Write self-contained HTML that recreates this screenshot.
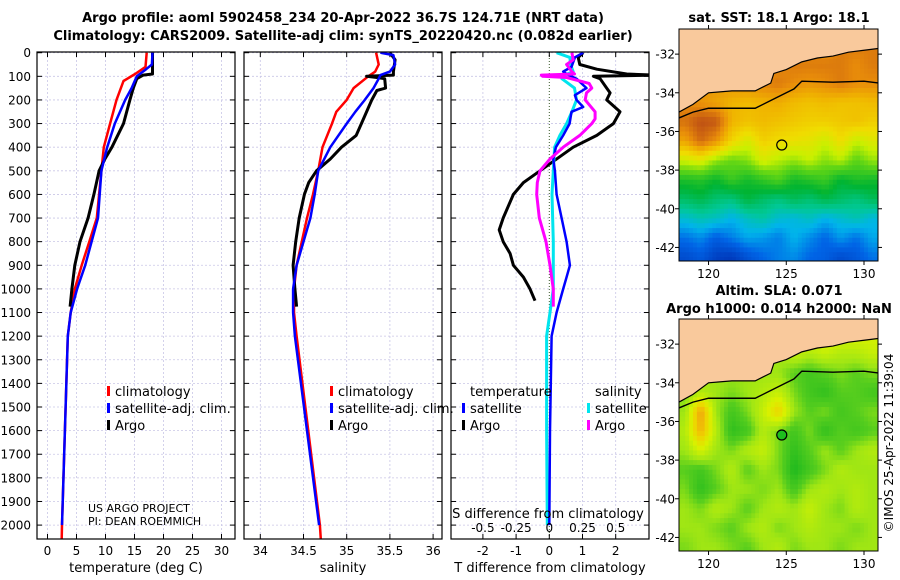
<!DOCTYPE html>
<html><head><meta charset="utf-8"><style>
html,body{margin:0;padding:0;background:#fff;}
svg{display:block;font-family:"DejaVu Sans","Liberation Sans",sans-serif;}
</style></head><body>
<svg id="c" width="900" height="580" viewBox="0 0 900 580" xmlns="http://www.w3.org/2000/svg">
<g id="titles" font-weight="bold" font-size="13" text-anchor="middle" fill="#000">
<text x="343" y="22">Argo profile: aoml 5902458_234 20-Apr-2022 36.7S 124.71E (NRT data)</text>
<text x="343" y="40">Climatology: CARS2009. Satellite-adj clim: synTS_20220420.nc (0.082d earlier)</text>
<text x="779" y="22">sat. SST: 18.1 Argo: 18.1</text>
<text x="779" y="295">Altim. SLA: 0.071</text>
<text x="779" y="313">Argo h1000: 0.014 h2000: NaN</text>
</g>
<text x="0" y="0" transform="translate(893,443) rotate(-90)" font-size="12" text-anchor="middle">©IMOS 25-Apr-2022 11:39:04</text>
</svg>
<script>
// ---------- data ----------
const depthTicks=[0,100,200,300,400,500,600,700,800,900,1000,1100,1200,1300,1400,1500,1600,1700,1800,1900,2000];
const tempTicks=[0,5,10,15,20,25,30];
const salTicks=[34,34.5,35,35.5,36];
const salTickLabels=["34","34.5","35","35.5","36"];
const tdiffTicks=[-2,-1,0,1,2];
const sdiffTicks=[-0.5,-0.25,0,0.25,0.5];
const sdiffTickLabels=["-0.5","-0.25","0","0.25","0.5"];

const tClimDepth=[0,60,90,120,200,300,400,500,600,700,800,900,1000,1100,1200,2000,2060];
const tClimVal=[17.1,16.9,15.1,13.1,11.9,10.8,9.7,9.3,8.9,8.5,7.2,5.9,4.7,4.0,3.5,2.5,2.45];
const tSatDepth=[0,50,70,100,150,200,300,400,500,600,700,800,900,1000,1100,1200,2000];
const tSatVal=[18.1,18.0,17.0,15.4,14.5,13.4,11.6,10.3,9.3,9.0,8.7,7.6,6.5,5.1,4.0,3.5,2.5];
const tArgoDepth=[0,90,95,110,150,200,300,400,450,500,600,700,800,900,1000,1075];
const tArgoVal=[18.1,18.1,16.5,15.4,14.8,14.2,13.1,11.1,9.9,8.9,8.0,7.0,5.6,4.7,4.2,3.9];

const sClimDepth=[0,50,80,100,150,200,250,300,400,500,600,700,800,900,1000,1100,1200,2000,2060];
const sClimVal=[35.34,35.37,35.33,35.25,35.08,35.0,34.88,34.83,34.72,34.67,34.61,34.54,34.48,34.42,34.39,34.39,34.42,34.69,34.70];
const sSatDepth=[0,10,50,80,95,110,150,200,250,300,400,500,600,700,800,900,1000,1100,1200,2000];
const sSatVal=[35.39,35.54,35.56,35.50,35.39,35.37,35.31,35.21,35.10,35.0,34.81,34.67,34.63,34.58,34.50,34.42,34.38,34.38,34.40,34.68];
const sArgoDepth=[0,30,80,95,100,105,110,150,160,200,300,350,400,450,500,550,600,700,800,900,1000,1075];
const sArgoVal=[35.50,35.56,35.54,35.54,35.23,35.35,35.44,35.45,35.35,35.29,35.17,35.11,34.94,34.81,34.65,34.56,34.51,34.45,34.41,34.38,34.40,34.42];

const dTArgoDepth=[0,20,50,70,90,95,100,110,150,170,200,250,300,350,400,500,550,600,700,750,800,850,900,950,1000,1050];
const dTArgoVal=[1.02,0.87,0.92,1.43,2.33,3.2,1.33,1.53,1.73,1.83,1.73,2.13,1.93,1.43,0.72,-0.28,-0.78,-1.08,-1.39,-1.51,-1.39,-1.18,-1.08,-0.78,-0.58,-0.43];
const dTSatDepth=[0,20,60,80,90,110,150,180,200,230,250,300,350,400,450,500,600,700,800,900,950,1000,1100,1200,1600,2000];
const dTSatVal=[1.02,0.77,0.67,0.42,0.52,0.82,1.12,0.77,0.82,1.02,0.67,0.61,0.42,0.20,0.12,0.17,0.22,0.37,0.52,0.62,0.52,0.42,0.22,0.07,0.02,0.0];
const dSArgoDepth=[0,30,50,80,90,95,100,105,130,150,170,200,250,280,300,350,400,450,500,550,600,700,800,900,1000,1075];
const dSArgoVal=[0.17,0.18,0.13,0.17,0.19,-0.06,-0.05,0.13,0.30,0.32,0.28,0.27,0.345,0.345,0.32,0.23,0.105,0.005,-0.07,-0.09,-0.095,-0.075,-0.025,0.005,0.03,0.03];
const dSSatDepth=[0,20,50,80,100,110,150,200,250,300,350,400,500,600,800,900,1000,1100,1200,1600,2000];
const dSSatVal=[0.055,0.155,0.16,0.18,0.09,0.095,0.19,0.205,0.17,0.13,0.08,0.04,0.03,0.02,0.03,0.03,0.03,0.005,-0.02,-0.02,-0.015];

const mapLonTicks=[120,125,130];
const mapLatTicks=[-32,-34,-36,-38,-40,-42];
const gridLons=[118,119,120,121,122,123,124,125,126,127,128,129,130];
const gridLats=[-31,-32,-33,-34,-35,-36,-37,-38,-39,-40,-41,-42];
const sstGrid=[
[19,19,19,19,19,19,19,19,19,19,19.5,19.5,19.5],
[19,19,19,19,19,19,19.3,19.5,19.5,19.5,19.5,19.3,19.5],
[19.2,19.2,19.2,19.2,19.3,19.4,19.5,19.3,19.2,19.3,19.5,19.3,19.3],
[19.3,19.2,19,18.8,18.7,18.8,18.9,18.7,18.6,18.7,18.6,18.6,18.7],
[19.6,20,19.9,18.8,18.6,18.7,18.6,18.5,18.4,18.4,18.5,18.6,18.4],
[19,19.7,19.2,18.3,17.8,18.4,18.2,18.1,18.0,17.7,18.2,17.6,17.9],
[17.7,17.9,17.3,17.0,17.2,17.8,17.5,17.3,17.6,17.2,17.5,16.9,17.3],
[16.3,16.4,16.1,16.6,16.2,16.5,16.8,16.2,16.4,16.6,16.0,16.3,16.2],
[15.6,15.8,15.5,15.4,15.9,15.6,15.4,15.7,15.5,15.8,15.6,15.4,15.7],
[14.8,15.0,14.9,14.6,14.9,15.1,14.8,14.7,14.9,14.6,14.8,15.0,14.7],
[14.1,14.3,13.9,14.2,14.5,14.4,14.2,14.6,14.3,14.0,14.4,14.1,14.5],
[13.6,13.8,13.4,13.3,13.7,14.0,14.2,14.3,14.0,13.9,13.6,13.8,14.1]];
const slaGrid=[
[.05,.05,.05,.05,.05,.05,.06,.07,.08,.09,.08,.08,.08],
[.05,.05,.05,.05,.05,.05,.05,.07,.06,.07,.06,.06,.07],
[.05,.05,.05,.05,.05,.05,.05,.03,.02,.03,.04,.03,.04],
[.04,.06,.05,.04,.05,.06,.07,.04,.02,.01,.03,.03,.02],
[.05,.14,.05,.02,.04,.07,.11,.05,.03,.04,.02,.03,.04],
[.06,.13,.06,.01,.02,.06,.04,.02,.04,.01,.03,.02,.03],
[.05,.08,.05,.04,.06,.07,.04,.01,.03,.05,.03,.05,.06],
[.03,.02,.04,.06,.03,.05,.04,0,.02,.04,.06,.05,.05],
[.04,.01,.03,.05,.05,.04,.05,.02,.05,.06,.05,.06,.05],
[.05,.04,.06,.05,.03,.05,.06,.05,.07,.05,.04,.06,.05],
[.05,.05,.04,.03,.05,.06,.04,.05,.06,.05,.05,.04,.05],
[.04,.05,.05,.04,.03,.05,.06,.04,.05,.05,.04,.05,.05]];
const coastLon=[118.1,119,120,121.5,123,124,124.2,125,126,127,128,129,130,131];
const coastLat=[-35.0,-34.6,-34.0,-33.9,-33.9,-33.5,-33.0,-32.8,-32.4,-32.2,-32.1,-31.9,-31.8,-31.7];
const isoLon=[118.1,119,120,122,123,124,125,125.5,126,128,130,131];
const isoLat=[-35.3,-35.0,-34.8,-34.8,-34.8,-34.4,-34.0,-33.8,-33.4,-33.45,-33.4,-33.5];
const argoLon=124.71, argoLat=-36.7;

// ---------- helpers ----------
const S=document.getElementById('c'), NS='http://www.w3.org/2000/svg';
function mk(tag,attrs,parent){const e=document.createElementNS(NS,tag);for(const k in attrs)e.setAttribute(k,attrs[k]);(parent||S).appendChild(e);return e;}
const Y0=52.7, YS=0.2362;
const yD=d=>Y0+d*YS;
const TOP=52, BOT=539;
const panels=[{x0:37,x1:235},{x0:244,x1:442},{x0:451,x1:649}];
const xT=v=>47.5+v*5.8;
const xS=v=>260.3+(v-34)*86.4;
const xDT=v=>549.3+v*33.2;
const xDS=v=>549.3+v*4*33.2;

panels.forEach((p,i)=>{
  const g=mk('g',{});
  
  
  const cp=mk('clipPath',{id:'cp'+i},S); mk('rect',{x:p.x0,y:TOP,width:p.x1-p.x0,height:BOT-TOP},cp);
  depthTicks.forEach(d=>{
    const l=mk('line',{x1:p.x0,x2:p.x1,y1:yD(d),y2:yD(d),stroke:'#c9c6e6','stroke-width':0.8,'stroke-dasharray':'2,2'},g);
    
    
    mk('line',{x1:p.x0,x2:p.x0+5,y1:yD(d),y2:yD(d),stroke:'#000'},g);
    mk('line',{x1:p.x1-5,x2:p.x1,y1:yD(d),y2:yD(d),stroke:'#000'},g);
  });
  p.g=g;
});
depthTicks.forEach(d=>{
  const t=mk('text',{x:31,y:yD(d)+4.5,'font-size':12,'text-anchor':'end'});
  t.textContent=d;
  
  
});
function xgrid(p,ticks,fx,labels,ly,dotted0){
  ticks.forEach((v,k)=>{
    const x=fx(v);
    if(dotted0&&v===0) mk('line',{x1:x,x2:x,y1:TOP,y2:BOT,stroke:'#3a5a2a','stroke-width':1,'stroke-dasharray':'1,2'},p.g);
    else mk('line',{x1:x,x2:x,y1:TOP,y2:BOT,stroke:'#c9c6e6','stroke-width':0.8,'stroke-dasharray':'2,2'},p.g);
    mk('line',{x1:x,x2:x,y1:BOT-5,y2:BOT,stroke:'#000'},p.g);
    mk('line',{x1:x,x2:x,y1:TOP,y2:TOP+5,stroke:'#000'},p.g);
    if(labels){const t=mk('text',{x:x,y:ly,'font-size':12,'text-anchor':'middle'});t.textContent=labels[k];
    
    }
  });
}
xgrid(panels[0],tempTicks,xT,tempTicks.map(String),555);
xgrid(panels[1],salTicks,xS,salTickLabels,555);
xgrid(panels[2],tdiffTicks,xDT,tdiffTicks.map(String),555,true);
sdiffTicks.forEach((v,k)=>{const t=mk('text',{x:xDS(v),y:532,'font-size':12,'text-anchor':'middle'});t.textContent=sdiffTickLabels[k];

});
[['temperature (deg C)',136,'x-axis-title-temperature'],['salinity',343,'x-axis-title-salinity'],['T difference from climatology',550,'x-axis-title-t-diff']].forEach(a=>{
  const t=mk('text',{x:a[1],y:572,'font-size':13,'text-anchor':'middle'});t.textContent=a[0];
  
  
});
{const t=mk('text',{x:548,y:518,'font-size':13,'text-anchor':'middle'});t.textContent='S difference from climatology';

}

function line(i,dep,val,fx,color,w,name){
  const pts=dep.map((d,k)=>fx(val[k]).toFixed(1)+','+yD(d).toFixed(1)).join(' ');
  const pl=mk('polyline',{points:pts,fill:'none',stroke:color,'stroke-width':w,'stroke-linejoin':'round','clip-path':'url(#cp'+i+')'},panels[i].g);
  
  
}
line(0,tClimDepth,tClimVal,xT,'#f00',2.5,'temp-climatology-line');
line(0,tArgoDepth,tArgoVal,xT,'#000',3,'temp-argo-line');
line(0,tSatDepth,tSatVal,xT,'#00f',2.5,'temp-satellite-line');
line(1,sClimDepth,sClimVal,xS,'#f00',2.5,'sal-climatology-line');
line(1,sArgoDepth,sArgoVal,xS,'#000',3,'sal-argo-line');
line(1,sSatDepth,sSatVal,xS,'#00f',2.5,'sal-satellite-line');
line(2,dTArgoDepth,dTArgoVal,xDT,'#000',3,'tdiff-argo-line');
line(2,dSSatDepth,dSSatVal,xDS,'#00e5ee',3,'sdiff-satellite-line');
line(2,dTSatDepth,dTSatVal,xDT,'#00f',2.5,'tdiff-satellite-line');
line(2,dSArgoDepth,dSArgoVal,xDS,'#f0f',3,'sdiff-argo-line');

panels.forEach(p=>{mk('rect',{x:p.x0,y:TOP,width:p.x1-p.x0,height:BOT-TOP,fill:'none',stroke:'#000','stroke-width':1.2},p.g);});

function legItem(x,y,color,label,name){
  const g=mk('g',{});
  
  
  mk('rect',{x:x,y:y-10,width:3,height:10,fill:color},g);
  const t=mk('text',{x:x+8,y:y,'font-size':13},g);t.textContent=label;
}
[[107,'#f00','climatology'],[107,'#00f','satellite-adj. clim.'],[107,'#000','Argo']].forEach((a,k)=>legItem(a[0],396+k*17,a[1],a[2],'legend-entry-temp-'+k));
[[330,'#f00','climatology'],[330,'#00f','satellite-adj. clim.'],[330,'#000','Argo']].forEach((a,k)=>legItem(a[0],396+k*17,a[1],a[2],'legend-entry-sal-'+k));
{let t=mk('text',{x:470,y:396,'font-size':13});t.textContent='temperature';


t=mk('text',{x:595,y:396,'font-size':13});t.textContent='salinity';

}
legItem(462,413,'#00f','satellite','legend-entry-tdiff-satellite');
legItem(462,430,'#000','Argo','legend-entry-tdiff-argo');
legItem(587,413,'#00e5ee','satellite','legend-entry-sdiff-satellite');
legItem(587,430,'#f0f','Argo','legend-entry-sdiff-argo');
{let t=mk('text',{x:88,y:512,'font-size':11});t.textContent='US ARGO PROJECT';


t=mk('text',{x:88,y:525,'font-size':11});t.textContent='PI: DEAN ROEMMICH';

}

// ---------- maps ----------
function lerpColor(stops,v){
  if(v<=stops[0][0])return stops[0][1];
  for(let i=1;i<stops.length;i++){if(v<=stops[i][0]){const a=stops[i-1],b=stops[i],t=(v-a[0])/(b[0]-a[0]);
    return a[1].map((x,k)=>Math.round(x+(b[1][k]-x)*t));}}
  return stops[stops.length-1][1];
}
function sample(grid,lon,lat){
  let c=lon-118.5, r=-31.5-lat;
  c=Math.max(0,Math.min(gridLons.length-1.001,c)); r=Math.max(0,Math.min(gridLats.length-1.001,r));
  const c0=Math.floor(c), r0=Math.floor(r), fc=c-c0, fr=r-r0;
  const c1=Math.min(c0+1,gridLons.length-1), r1=Math.min(r0+1,gridLats.length-1);
  return grid[r0][c0]*(1-fc)*(1-fr)+grid[r0][c1]*fc*(1-fr)+grid[r1][c0]*(1-fc)*fr+grid[r1][c1]*fc*fr;
}
const sstStops=[[13,[0,40,170]],[14,[0,100,230]],[14.6,[0,180,235]],[15.2,[0,200,150]],[16,[0,180,50]],[17,[100,215,20]],[17.6,[200,240,0]],[18.2,[240,220,0]],[18.8,[240,180,0]],[19.3,[232,140,10]],[20,[190,80,20]]];
const slaStops=[[0,[30,185,30]],[0.03,[85,205,30]],[0.05,[160,230,20]],[0.08,[215,242,0]],[0.11,[240,210,0]],[0.14,[240,160,15]]];
function drawMap(y0,grid,stops,name,filledMarker){
  const X0=679,X1=878,H=232,LON0=118.1,LON1=130.9,LAT0=-30.7;
  const fx=l=>X0+(l-LON0)/(LON1-LON0)*(X1-X0);
  const fy=l=>y0+(LAT0-l)*19.33;
  const g=mk('g',{});
  
  
  const cid='mc'+y0;const cp=mk('clipPath',{id:cid},S);mk('rect',{x:X0,y:y0,width:X1-X0,height:H},cp);
  const cg=mk('g',{'clip-path':'url(#'+cid+')'},g);
  const step=0.25;
  for(let la=-30.5;la>-43;la-=step){
    for(let lo=118;lo<131;lo+=step){
      const v=sample(grid,lo+step/2,la-step/2);
      const col=lerpColor(stops,v);
      const cell=mk('rect',{x:fx(lo).toFixed(2),y:fy(la).toFixed(2),width:(step*15.55+0.4).toFixed(2),height:(step*19.33+0.4).toFixed(2),fill:'rgb('+col.join(',')+')'},cg);
      
      
    }
  }
  let pts=coastLon.map((l,k)=>fx(l).toFixed(1)+','+fy(coastLat[k]).toFixed(1));
  pts.push(fx(131.5)+','+(y0-5));pts.push(fx(117.5)+','+(y0-5));pts.push(fx(117.5)+','+fy(-35.0));
  const land=mk('polygon',{points:pts.join(' '),fill:'#f9c99c',stroke:'none'},cg);
  
  
  const coast=mk('polyline',{points:coastLon.map((l,k)=>fx(l)+','+fy(coastLat[k])).join(' '),fill:'none',stroke:'#000','stroke-width':1.2},cg);
  
  
  const iso=mk('polyline',{points:isoLon.map((l,k)=>fx(l)+','+fy(isoLat[k])).join(' '),fill:'none',stroke:'#000','stroke-width':1.4},cg);
  
  
  const m=mk('circle',{cx:fx(argoLon),cy:fy(argoLat),r:5,fill:filledMarker?'rgb(30,190,30)':'none',stroke:'#000','stroke-width':1.2},g);
  
  
  mk('rect',{x:X0,y:y0,width:X1-X0,height:H,fill:'none',stroke:'#000','stroke-width':1},g);
  mapLatTicks.forEach(la=>{const y=fy(la);mk('line',{x1:X0-4,x2:X0,y1:y,y2:y,stroke:'#000'},g);mk('line',{x1:X1,x2:X1+4,y1:y,y2:y,stroke:'#000'},g);
    const t=mk('text',{x:X0-4,y:y+4.5,'font-size':12,'text-anchor':'end'},g);t.textContent=la;
    
    });
  mapLonTicks.forEach(lo=>{const x=fx(lo);mk('line',{x1:x,x2:x,y1:y0+H,y2:y0+H+4,stroke:'#000'},g);mk('line',{x1:x,x2:x,y1:y0-4,y2:y0,stroke:'#000'},g);
    const t=mk('text',{x:x,y:y0+H+17,'font-size':12,'text-anchor':'middle'},g);t.textContent=lo;
    
    });
}
drawMap(29,sstGrid,sstStops,'sst-map',false);
drawMap(319,slaGrid,slaStops,'sla-map',true);
</script>
</body></html>
